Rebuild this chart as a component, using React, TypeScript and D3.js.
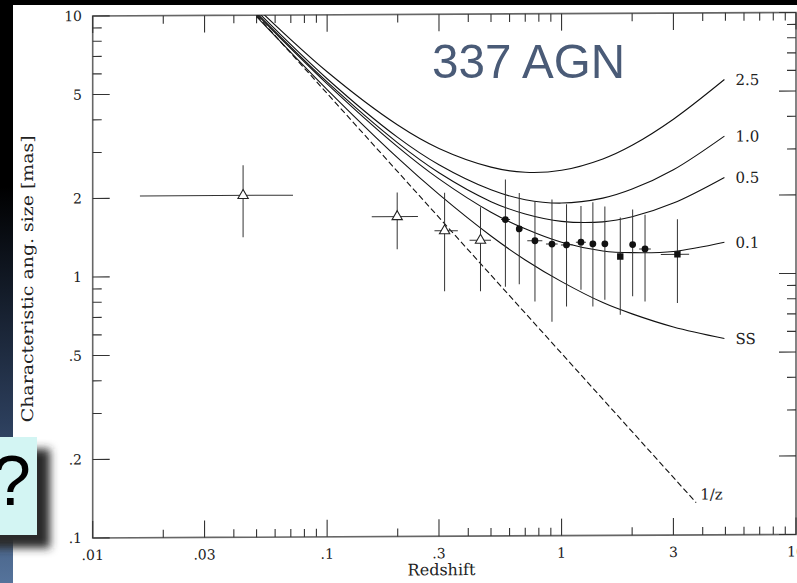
import React from 'react';
import * as d3 from 'd3';

// ---- axis ticks ----
const xTickValues = [0.01, 0.03, 0.1, 0.3, 1, 3, 10];
const xTickLabels = ['.01', '.03', '.1', '.3', '1', '3', '10'];
const yTickValues = [0.1, 0.2, 0.5, 1, 2, 5, 10];
const yTickLabels = ['.1', '.2', '.5', '1', '2', '5', '10'];

// ---- model curves (redshift -> characteristic angular size, mas) ----
const modelZ = [0.05, 0.1, 0.2, 0.3, 0.5, 0.7, 1, 1.5, 2, 3, 4.95];
const curve25 = [10.7, 6.05, 3.77, 3.06, 2.59, 2.47, 2.51, 2.77, 3.12, 3.92, 5.55];
const curve10 = [10.4, 5.69, 3.38, 2.65, 2.12, 1.94, 1.88, 1.96, 2.12, 2.51, 3.37];
const curve05 = [10.2, 5.53, 3.22, 2.47, 1.91, 1.71, 1.6, 1.59, 1.66, 1.87, 2.34];
const curve01 = [10.1, 5.44, 3.11, 2.34, 1.74, 1.5, 1.33, 1.23, 1.21, 1.22, 1.32];
const curveSS = [9.87, 5.17, 2.82, 2.04, 1.41, 1.14, 0.94, 0.78, 0.705, 0.627, 0.565];
const curveLabels = ['2.5', '1.0', '0.5', '0.1', 'SS'];
const euclidZ = [0.05, 3.75];
const euclidSize = [10, 0.133];
const euclidLabel = '1/z';

// ---- binned data: filled points ----
const filledZ = [0.576, 0.66, 0.77, 0.91, 1.05, 1.21, 1.36, 1.53, 1.78, 2.01, 2.27, 3.12];
const filledSize = [1.63, 1.5, 1.35, 1.31, 1.3, 1.33, 1.31, 1.31, 1.17, 1.3, 1.25, 1.19];
const filledHi = [2.32, 2.06, 1.91, 1.94, 1.86, 1.83, 1.89, 1.82, 1.65, 1.77, 1.69, 1.62];
const filledLo = [0.9, 0.92, 0.79, 0.66, 0.755, 0.875, 0.754, 0.8, 0.7, 0.823, 0.786, 0.774];
const filledZLo = [0.552, 0.645, 0.714, 0.858, 0.994, 1.151, 1.33, 1.49, 1.74, 1.96, 2.142, 2.651];
const filledZHi = [0.603, 0.675, 0.828, 0.962, 1.114, 1.27, 1.39, 1.56, 1.82, 2.05, 2.403, 3.5];
const filledShape = ['c', 'c', 'c', 'c', 'c', 'c', 'c', 'c', 's', 'c', 'c', 's'];

// ---- binned data: open triangles ----
const triZ = [0.0438, 0.199, 0.317, 0.451];
const triSize = [2.04, 1.68, 1.48, 1.36];
const triHi = [2.66, 2.08, 2.07, 1.82];
const triLo = [1.41, 1.26, 0.868, 0.866];
const triZLo = [0.0159, 0.155, 0.287, 0.405];
const triZHi = [0.0715, 0.244, 0.361, 0.5];

const W = 797;
const H = 583;

const x = d3.scaleLog().domain([0.01, 10]).range([92.7, 796]);
const y = d3.scaleLog().domain([0.1, 10]).range([538, 16]);

const isIn = (v: number, arr: number[]) => arr.some((a) => Math.abs(a - v) / a < 1e-6);

export default function App() {
  const line = d3
    .line<[number, number]>()
    .x((d) => x(d[0]))
    .y((d) => y(d[1]))
    .curve(d3.curveCatmullRom.alpha(0.5));

  const curves = [curve25, curve10, curve05, curve01, curveSS];
  const x0 = x(0.01), x1 = x(10), y0 = y(0.1), y1 = y(10);

  const xt = x.ticks();
  const yt = y.ticks();
  const tri = d3.symbol().type(d3.symbolTriangle).size(46)() as string;
  const serif = 'DejaVu Serif';
  const ink = '#222';

  return (
    <svg width={W} height={H} style={{ position: 'absolute', left: 0, top: 0 }} xmlns="http://www.w3.org/2000/svg">
      <defs>
        <linearGradient id="strip" x1="0" y1="0" x2="0" y2="1">
          <stop offset="0" stopColor="#000" />
          <stop offset="0.32" stopColor="#000" />
          <stop offset="0.72" stopColor="#2b3d5a" />
          <stop offset="1" stopColor="#55739b" />
        </linearGradient>
        <filter id="blur" x="-50%" y="-50%" width="200%" height="200%">
          <feGaussianBlur stdDeviation="4" />
        </filter>
        <clipPath id="plot">
          <rect x={x0} y={y1} width={x1 - x0} height={y0 - y1} />
        </clipPath>
      </defs>
      <rect x={0} y={0} width={W} height={H} fill="#fff" />
      <rect x={0} y={0} width={W} height={5} fill="#000" />
      <rect x={0} y={0} width={13} height={H} fill="url(#strip)" />

      <g transform="translate(0,0.47) skewY(-0.29)">
        {/* frame */}
        <rect x={x0} y={y1} width={x1 - x0} height={y0 - y1} fill="none" stroke="#666" strokeWidth={1.6} />
        {/* x ticks */}
        {xt.map((v, i) => {
          const len = isIn(v, xTickValues) ? 17 : 8;
          return (
            <g key={'xt' + i} stroke="#333" strokeWidth={1.1}>
              <line x1={x(v)} x2={x(v)} y1={y0} y2={y0 - len} />
              <line x1={x(v)} x2={x(v)} y1={y1} y2={y1 + len} />
            </g>
          );
        })}
        {/* y ticks */}
        {yt.map((v, i) => {
          const len = isIn(v, yTickValues) ? 17 : 9;
          return (
            <g key={'yt' + i} stroke="#333" strokeWidth={1.1}>
              <line x1={x0} x2={x0 + len} y1={y(v)} y2={y(v)} />
              <line x1={x1} x2={x1 - len} y1={y(v)} y2={y(v)} />
            </g>
          );
        })}
        {/* tick labels */}
        {xTickValues.map((v, i) => (
          <text key={'xl' + i} x={x(v)} y={560} textAnchor="middle" fontFamily={serif} fontSize={14} fill={ink}>
            {xTickLabels[i]}
          </text>
        ))}
        {yTickValues.map((v, i) => (
          <text key={'yl' + i} x={82} y={y(v) + 5} textAnchor="end" fontFamily={serif} fontSize={14} fill={ink}>
            {yTickLabels[i]}
          </text>
        ))}
        <text x={441.5} y={577} textAnchor="middle" fontFamily={serif} fontSize={16} fill={ink}>
          Redshift
        </text>
        <text
          transform="translate(33,278.5) rotate(-90)"
          textAnchor="middle"
          fontFamily={serif}
          fontSize={16}
          fill={ink}
          textLength={287}
          lengthAdjust="spacingAndGlyphs"
        >
          Characteristic ang. size [mas]
        </text>

        {/* model curves */}
        <g clipPath="url(#plot)" fill="none" stroke="#111" strokeWidth={1.1}>
          {curves.map((c, k) => (
            <path key={'c' + k} d={line(modelZ.map((z, i) => [z, c[i]] as [number, number])) as string} />
          ))}
          <path
            d={line(euclidZ.map((z, i) => [z, euclidSize[i]] as [number, number])) as string}
            strokeDasharray="6,3"
          />
        </g>
        {curves.map((c, k) => (
          <text
            key={'cl' + k}
            x={x(modelZ[modelZ.length - 1]) + 11}
            y={y(c[c.length - 1]) + 5.5}
            fontFamily={serif}
            fontSize={15}
            fill={ink}
          >
            {curveLabels[k]}
          </text>
        ))}
        <text
          x={x(euclidZ[1]) + 4}
          y={y(euclidSize[1]) - 3}
          fontFamily={serif}
          fontSize={15}
          fill={ink}
        >
          {euclidLabel}
        </text>

        {/* error bars */}
        <g stroke="#333" strokeWidth={1}>
          {filledZ.map((z, i) => (
            <g key={'fe' + i}>
              <line x1={x(z)} x2={x(z)} y1={y(filledHi[i])} y2={y(filledLo[i])} />
              <line x1={x(filledZLo[i])} x2={x(filledZHi[i])} y1={y(filledSize[i])} y2={y(filledSize[i])} />
            </g>
          ))}
          {triZ.map((z, i) => (
            <g key={'te' + i}>
              <line x1={x(z)} x2={x(z)} y1={y(triHi[i])} y2={y(triLo[i])} />
              <line x1={x(triZLo[i])} x2={x(triZHi[i])} y1={y(triSize[i])} y2={y(triSize[i])} />
            </g>
          ))}
        </g>
        {/* markers */}
        {filledZ.map((z, i) =>
          filledShape[i] === 's' ? (
            <rect key={'fm' + i} x={x(z) - 3.2} y={y(filledSize[i]) - 3.2} width={6.4} height={6.4} fill="#111" />
          ) : (
            <circle key={'fm' + i} cx={x(z)} cy={y(filledSize[i])} r={3.4} fill="#111" />
          )
        )}
        {triZ.map((z, i) => (
          <path
            key={'tm' + i}
            d={tri}
            transform={`translate(${x(z)},${y(triSize[i])})`}
            fill="#fff"
            stroke="#222"
            strokeWidth={1.1}
          />
        ))}
      </g>

      {/* overlays */}
      <text x={432} y={78} fontFamily="Liberation Sans, Arial, sans-serif" fontSize={49} fill="#4a5b77" textLength={193} lengthAdjust="spacingAndGlyphs">
        337 AGN
      </text>
      <rect x={-10} y={449} width={60} height={99} fill="#2a2a2a" filter="url(#blur)" />
      <rect x={0} y={437} width={37} height={98} fill="#d3f5f3" />
      <text x={-8} y={505} fontFamily="Liberation Sans, Arial, sans-serif" fontSize={70} fill="#000">
        ?
      </text>
    </svg>
  );
}
